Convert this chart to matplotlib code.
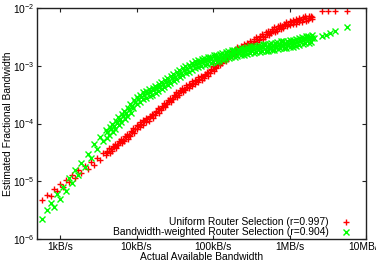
import numpy as np
import matplotlib
matplotlib.use("Agg")
import matplotlib.pyplot as plt
from matplotlib.ticker import FixedLocator, FixedFormatter, NullLocator

# ---- data (log10 values) ----
# actual available bandwidth (log10 B/s), shared by both estimates
bw_log = [2.77, 2.83, 2.88, 2.92, 2.96, 3.00, 3.04, 3.08, 3.12, 3.16,
          3.20, 3.24, 3.28, 3.32, 3.36, 3.40, 3.44, 3.48, 3.52, 3.56,
          3.60, 3.64, 3.68, 3.72, 3.76, 3.80, 3.84, 3.88, 3.92, 3.96,
          4.00, 4.04, 4.08, 4.12, 4.16, 4.20, 4.24, 4.28, 4.32, 4.36,
          4.40, 4.44, 4.48, 4.52, 4.56, 4.60, 4.64, 4.68, 4.72, 4.76,
          4.80, 4.84, 4.88, 4.92, 4.96, 5.00, 5.04, 5.08, 5.12, 5.16,
          5.20, 5.24, 5.28, 5.32, 5.36, 5.40, 5.44, 5.48, 5.52, 5.56,
          5.60, 5.64, 5.68, 5.72, 5.76, 5.80, 5.84, 5.88, 5.92, 5.96,
          6.00, 6.04, 6.08, 6.12, 6.16, 6.20, 6.24, 6.28]
# estimated fractional bandwidth, uniform router selection (log10)
uniform_log = [-5.33, -5.24, -5.26, -5.14, -5.17, -5.05, -5.10, -4.97, -5.01, -4.89,
               -4.94, -4.81, -4.86, -4.74, -4.78, -4.66, -4.71, -4.59, -4.63, -4.51,
               -4.55, -4.43, -4.47, -4.35, -4.38, -4.26, -4.30, -4.18, -4.21, -4.08,
               -4.10, -3.98, -4.02, -3.90, -3.95, -3.83, -3.86, -3.73, -3.77, -3.64,
               -3.67, -3.55, -3.58, -3.46, -3.50, -3.38, -3.42, -3.31, -3.35, -3.24,
               -3.28, -3.17, -3.22, -3.10, -3.13, -3.01, -3.04, -2.91, -2.95, -2.83,
               -2.87, -2.75, -2.80, -2.68, -2.73, -2.62, -2.68, -2.57, -2.62, -2.51,
               -2.56, -2.45, -2.50, -2.39, -2.44, -2.33, -2.39, -2.29, -2.35, -2.24,
               -2.30, -2.20, -2.27, -2.17, -2.24, -2.14, -2.21, -2.13]
# estimated fractional bandwidth, bandwidth-weighted router selection (log10)
weighted_log = [-5.65, -5.50, -5.38, -5.45, -5.22, -5.30, -5.10, -5.17, -4.94, -5.03,
                -4.80, -4.89, -4.68, -4.76, -4.52, -4.60, -4.36, -4.45, -4.23, -4.31,
                -4.11, -4.20, -4.01, -4.10, -3.89, -3.97, -3.78, -3.87, -3.67, -3.74,
                -3.54, -3.62, -3.46, -3.55, -3.40, -3.50, -3.35, -3.44, -3.28, -3.37,
                -3.22, -3.30, -3.15, -3.23, -3.08, -3.16, -3.01, -3.10, -2.95, -3.04,
                -2.90, -3.00, -2.87, -2.97, -2.84, -2.94, -2.81, -2.92, -2.78, -2.88,
                -2.74, -2.85, -2.72, -2.83, -2.70, -2.81, -2.68, -2.78, -2.66, -2.77,
                -2.64, -2.75, -2.62, -2.74, -2.61, -2.72, -2.59, -2.70, -2.58, -2.69,
                -2.56, -2.67, -2.54, -2.64, -2.51, -2.61, -2.48, -2.59]

# second group of relays (dense part of the distribution)
bw_b_log = [3.62, 3.66, 3.70, 3.74, 3.78, 3.82, 3.86, 3.90, 3.94, 3.98,
            4.02, 4.06, 4.10, 4.14, 4.18, 4.22, 4.26, 4.30, 4.34, 4.38,
            4.42, 4.46, 4.50, 4.54, 4.58, 4.62, 4.66, 4.70, 4.74, 4.78,
            4.82, 4.86, 4.90, 4.94, 4.98, 5.02, 5.06, 5.10, 5.14, 5.18,
            5.22, 5.26, 5.30, 5.34, 5.38, 5.42, 5.46, 5.50, 5.54, 5.58,
            5.62, 5.66, 5.70, 5.74, 5.78, 5.82, 5.86, 5.90, 5.94, 5.98,
            6.02, 6.06, 6.10, 6.14, 6.18, 6.22, 6.26, 6.30]
uniform_b_log = [-4.49, -4.45, -4.41, -4.37, -4.32, -4.28, -4.24, -4.20, -4.15, -4.09,
                 -4.04, -4.00, -3.96, -3.93, -3.89, -3.85, -3.80, -3.75, -3.71, -3.66,
                 -3.61, -3.57, -3.52, -3.48, -3.44, -3.40, -3.37, -3.33, -3.30, -3.26,
                 -3.23, -3.20, -3.16, -3.12, -3.07, -3.03, -2.98, -2.93, -2.89, -2.85,
                 -2.81, -2.78, -2.74, -2.71, -2.68, -2.65, -2.63, -2.60, -2.57, -2.54,
                 -2.51, -2.48, -2.45, -2.42, -2.39, -2.36, -2.34, -2.32, -2.30, -2.27,
                 -2.25, -2.24, -2.22, -2.21, -2.19, -2.18, -2.17, -2.15]
weighted_b_log = [-4.15, -4.10, -4.05, -3.99, -3.93, -3.87, -3.82, -3.77, -3.70, -3.63,
                  -3.58, -3.54, -3.50, -3.47, -3.45, -3.42, -3.39, -3.36, -3.32, -3.29,
                  -3.26, -3.22, -3.19, -3.15, -3.12, -3.08, -3.05, -3.02, -2.99, -2.97,
                  -2.95, -2.93, -2.92, -2.90, -2.89, -2.87, -2.86, -2.85, -2.83, -2.81,
                  -2.79, -2.78, -2.77, -2.76, -2.75, -2.74, -2.73, -2.72, -2.71, -2.70,
                  -2.69, -2.68, -2.68, -2.67, -2.66, -2.65, -2.64, -2.64, -2.63, -2.62,
                  -2.61, -2.60, -2.59, -2.57, -2.56, -2.54, -2.53, -2.52]

# third group of relays (dense part of the distribution)
bw_c_log = [3.61, 3.65, 3.69, 3.73, 3.77, 3.81, 3.85, 3.89, 3.93, 3.97,
            4.01, 4.05, 4.09, 4.13, 4.17, 4.21, 4.25, 4.29, 4.33, 4.37,
            4.41, 4.45, 4.49, 4.53, 4.57, 4.61, 4.65, 4.69, 4.73, 4.77,
            4.81, 4.85, 4.89, 4.93, 4.97, 5.01, 5.05, 5.09, 5.13, 5.17,
            5.21, 5.25, 5.29, 5.33, 5.37, 5.41, 5.45, 5.49, 5.53, 5.57,
            5.61, 5.65, 5.69, 5.73, 5.77, 5.81, 5.85, 5.89, 5.93, 5.97,
            6.01, 6.05, 6.09, 6.13, 6.17, 6.21, 6.25, 6.29]
uniform_c_log = [-4.47, -4.51, -4.39, -4.43, -4.30, -4.34, -4.22, -4.26, -4.13, -4.16,
                 -4.02, -4.06, -3.94, -3.98, -3.87, -3.91, -3.78, -3.81, -3.69, -3.72,
                 -3.59, -3.63, -3.50, -3.54, -3.42, -3.46, -3.34, -3.39, -3.27, -3.32,
                 -3.20, -3.25, -3.14, -3.18, -3.05, -3.09, -2.96, -2.99, -2.87, -2.91,
                 -2.79, -2.83, -2.72, -2.76, -2.65, -2.70, -2.60, -2.65, -2.54, -2.59,
                 -2.48, -2.53, -2.42, -2.47, -2.36, -2.41, -2.31, -2.37, -2.27, -2.32,
                 -2.22, -2.28, -2.19, -2.25, -2.16, -2.22, -2.13, -2.19]
weighted_c_log = [-4.25, -4.06, -4.15, -3.96, -4.03, -3.83, -3.92, -3.73, -3.81, -3.60,
                  -3.66, -3.50, -3.58, -3.43, -3.52, -3.38, -3.47, -3.32, -3.40, -3.25,
                  -3.34, -3.18, -3.27, -3.11, -3.20, -3.04, -3.13, -2.98, -3.07, -2.92,
                  -3.02, -2.88, -2.99, -2.85, -2.96, -2.82, -2.93, -2.80, -2.90, -2.76,
                  -2.86, -2.73, -2.84, -2.71, -2.82, -2.69, -2.80, -2.66, -2.78, -2.65,
                  -2.76, -2.63, -2.74, -2.62, -2.73, -2.60, -2.71, -2.58, -2.70, -2.57,
                  -2.68, -2.55, -2.66, -2.52, -2.63, -2.49, -2.60, -2.47]

# isolated high-bandwidth relays
uniform_extra_bw_log = [6.42, 6.50, 6.60, 6.75]
uniform_extra_log = [-2.05, -2.05, -2.05, -2.06]
weighted_extra_bw_log = [6.32, 6.42, 6.48, 6.53, 6.60, 6.75]
weighted_extra_log = [-2.52, -2.49, -2.47, -2.44, -2.40, -2.33]

series_labels = ["Uniform Router Selection (r=0.997)",
                 "Bandwidth-weighted Router Selection (r=0.904)"]
xtick_values = [1e3, 1e4, 1e5, 1e6, 1e7]
xtick_labels = ["1kB/s", "10kB/s", "100kB/s", "1MB/s", "10MB/s"]
ytick_values = [1e-6, 1e-5, 1e-4, 1e-3, 1e-2]

# ---- plot ----
FS = 7.4
plt.rcParams["font.family"] = ["Liberation Sans", "DejaVu Sans"]
plt.rcParams["font.size"] = FS

fig = plt.figure(figsize=(3.76, 2.65), dpi=100)
W, H = 376.0, 265.0
ax = fig.add_axes([37 / W, 1 - 239 / H, 329 / W, 231 / H])

x_u = np.power(10.0, np.array(bw_log + bw_b_log + bw_c_log + uniform_extra_bw_log))
y_u = np.power(10.0, np.array(uniform_log + uniform_b_log + uniform_c_log + uniform_extra_log))
x_w = np.power(10.0, np.array(bw_log + bw_b_log + bw_c_log + weighted_extra_bw_log))
y_w = np.power(10.0, np.array(weighted_log + weighted_b_log + weighted_c_log + weighted_extra_log))

ax.plot(x_u, y_u, linestyle="none", marker="+", color="#ff0000",
        ms=5, mew=1.0, label=series_labels[0])
ax.plot(x_w, y_w, linestyle="none", marker="x", color="#00ff00",
        ms=4.2, mew=1.0, label=series_labels[1])

ax.set_xscale("log")
ax.set_yscale("log")
ax.set_xlim(500, 1e7)
ax.set_ylim(1e-6, 1e-2)

ax.xaxis.set_major_locator(FixedLocator(xtick_values))
ax.xaxis.set_major_formatter(FixedFormatter(xtick_labels))
ax.xaxis.set_minor_locator(NullLocator())
ax.yaxis.set_major_locator(FixedLocator(ytick_values))
ax.yaxis.set_minor_locator(NullLocator())

ax.tick_params(direction="in", top=True, right=True, length=3, width=0.8,
               labelsize=FS, colors="#222222")
ax.tick_params(axis="x", labelcolor="black", pad=2.0)
ax.tick_params(axis="y", labelcolor="black", pad=1.8)
for s in ax.spines.values():
    s.set_linewidth(1.0)
    s.set_color("#222222")

ax.set_xlabel("Actual Available Bandwidth", labelpad=0.5)
ax.set_ylabel("Estimated Fractional Bandwidth")
ax.yaxis.set_label_coords(-24.0 / 329, 0.5)

ax.legend(loc="lower right", bbox_to_anchor=(0.956, 0.008), frameon=False,
          markerfirst=False, fontsize=FS, handlelength=1.1, handletextpad=1.1,
          labelspacing=0.0, borderaxespad=0.0, borderpad=0.0)

fig.savefig("out.png", dpi=100)
